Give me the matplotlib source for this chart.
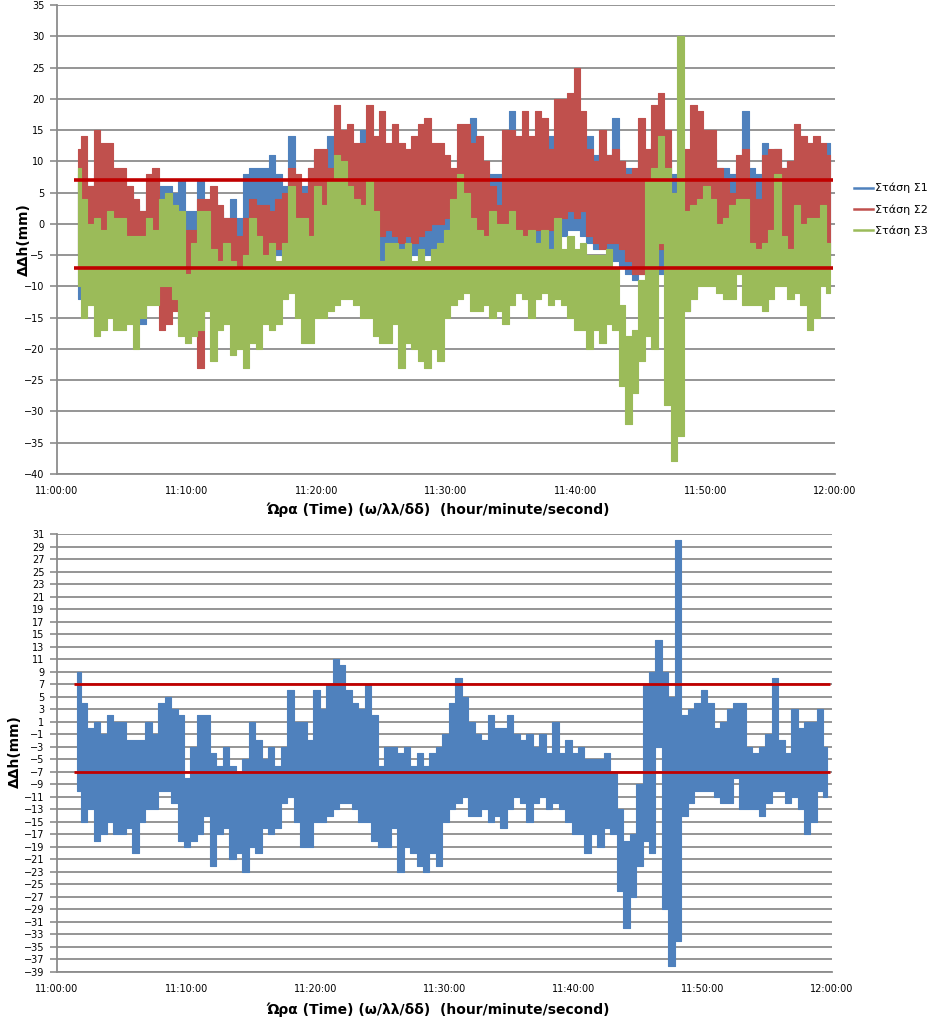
import numpy as np
import matplotlib
matplotlib.use("Agg")
import matplotlib.pyplot as plt
from matplotlib.lines import Line2D

# low / high of each station in 30 s bins, first bin starts 11:01:20 (mm)
s1_low = [-12, -8, -6, -7, -8, -7, -9, -8, -7, -9,
          -16, -8, -6, -5, -4, -6, -8, -10, -9, -8,
          -6, -7, -9, -8, -9, -8, -7, -6, -5, -6,
          -4, -5, -6, -4, -6, -7, -5, -4, -6, -7,
          -5, -4, -5, -6, -5, -4, -6, -6, -5, -6,
          -4, -3, -5, -6, -5, -6, -5, -4, -3, -4,
          -4, -3, -4, -5, -3, -4, -3, -4, -5, -4,
          -5, -4, -3, -4, -2, -2, -1, -1, -2, -3,
          -4, -3, -4, -6, -7, -8, -9, -8, -7, -6,
          -8, -7, -7, -6, -14, -11, -8, -6, -5, -6,
          -5, -6, -5, -6, -7, -8, -6, -5, -6, -7,
          -6, -5, -4, -6, -5, -6, -7]
s1_high = [8, 7, 6, 8, 9, 8, 6, 7, 5, 3,
           2, 5, 7, 6, 6, 5, 7, 2, 2, 7,
           3, 4, 2, 1, 4, 1, 8, 9, 9, 9,
           11, 8, 6, 14, 6, 6, 9, 11, 8, 14,
           11, 10, 12, 11, 15, 10, 10, 12, 10, 8,
           10, 9, 11, 12, 11, 10, 9, 9, 8, 11,
           12, 17, 10, 9, 8, 8, 11, 18, 10, 8,
           10, 12, 10, 14, 12, 10, 14, 12, 10, 14,
           11, 12, 11, 17, 10, 9, 8, 10, 8, 13,
           15, 12, 8, 4, 6, 10, 12, 12, 12, 9,
           9, 8, 9, 18, 9, 8, 13, 10, 12, 9,
           10, 10, 12, 11, 10, 10, 13]
s2_low = [-5, -3, -4, -4, -6, -5, -7, -6, -5, -6,
          -5, -4, -6, -17, -16, -14, -16, -10, -8, -23,
          -8, -5, -6, -5, -9, -10, -9, -10, -8, -8,
          -6, -4, -3, -3, -2, -4, -2, -3, -4, -10,
          -6, -3, -2, -3, -4, -3, -2, -2, -1, -2,
          -3, -2, -3, -2, -1, 0, 0, 1, 0, -2,
          -1, -2, -3, -3, -2, -4, 0, -1, -2, -3,
          -2, -1, -2, -1, 0, 1, 2, 1, 2, -2,
          -3, -4, -3, -3, -4, -6, -8, -8, -6, -7,
          -4, -6, -4, -3, -4, -3, -2, -4, -1, -2,
          -1, -3, -2, -4, -5, -6, -4, -3, -4, -5,
          -4, -3, -2, -5, -3, -4, -5]
s2_high = [12, 14, 6, 15, 13, 13, 9, 9, 6, 4,
           2, 8, 9, 3, 2, 2, 0, -1, -1, 4,
           4, 6, 3, 1, 1, -2, 1, 4, 3, 3,
           2, 4, 5, 9, 8, 5, 9, 12, 12, 9,
           19, 15, 16, 13, 13, 19, 14, 18, 13, 16,
           13, 12, 14, 16, 17, 13, 13, 11, 9, 16,
           16, 13, 14, 10, 6, 3, 15, 15, 14, 18,
           14, 18, 17, 12, 20, 20, 21, 25, 18, 12,
           10, 15, 11, 12, 10, 8, 9, 17, 12, 19,
           21, 15, 5, 8, 12, 19, 18, 15, 15, 9,
           7, 5, 11, 12, 7, 4, 11, 12, 12, 9,
           10, 16, 14, 13, 14, 13, 11]
s3_low = [-10, -15, -13, -18, -17, -15, -17, -17, -16, -20,
          -15, -13, -13, -10, -10, -12, -18, -19, -18, -17,
          -14, -22, -17, -16, -21, -20, -23, -19, -20, -16,
          -17, -16, -12, -11, -15, -19, -19, -15, -15, -14,
          -13, -12, -12, -13, -15, -15, -18, -19, -19, -16,
          -23, -19, -20, -22, -23, -20, -22, -15, -13, -12,
          -11, -14, -14, -13, -15, -14, -16, -13, -11, -12,
          -15, -12, -11, -13, -12, -13, -15, -17, -17, -20,
          -17, -19, -16, -17, -26, -32, -27, -22, -18, -20,
          -3, -29, -38, -34, -14, -12, -10, -10, -10, -11,
          -12, -12, -8, -13, -13, -13, -14, -12, -10, -10,
          -12, -11, -13, -17, -15, -10, -11]
s3_high = [9, 4, 0, 1, -1, 2, 1, 1, -2, -2,
           -2, 1, -1, 4, 5, 3, 2, -8, -3, 2,
           2, -4, -6, -3, -6, -7, -5, 1, -2, -5,
           -3, -6, -3, 6, 1, 1, -2, 6, 3, 7,
           11, 10, 6, 4, 3, 7, 2, -6, -3, -3,
           -4, -3, -6, -4, -6, -4, -3, -1, 4, 8,
           5, 1, -1, -2, 2, 0, 0, 2, -1, -2,
           -1, -3, -1, -4, 1, -4, -2, -4, -3, -5,
           -5, -5, -4, -7, -13, -18, -17, -9, 7, 9,
           14, 9, 5, 30, 2, 3, 4, 6, 4, 0,
           1, 3, 4, 4, -3, -4, -3, -1, 8, -2,
           -4, 3, 0, 1, 1, 3, -3]

tick_labels = ["11:00:00", "11:10:00", "11:20:00", "11:30:00",
               "11:40:00", "11:50:00", "12:00:00"]
series_names = ["Στάση Σ1", "Στάση Σ2", "Στάση Σ3"]
limit = 7

start_min = 80 / 60   # 11:01:20
bin_min = 0.5
t_mid = start_min + bin_min * (np.arange(len(s3_low)) + 0.5)
t_end = start_min + bin_min * len(s3_low)

blue, red, green = "#4F81BD", "#C0504D", "#9BBB59"
limit_col = "#C00000"
grid_col = "#8C8C8C"


def band(ax, low, high, color):
    # each 30 s bin drawn as a vertical stroke from its low to its high
    ax.fill_between(t_mid, low, high, step="mid", facecolor=color,
                    edgecolor=color, lw=0.8)


fig = plt.figure(figsize=(9.39, 10.25), dpi=100)
ax1 = fig.add_axes([57 / 939, 1 - 474 / 1025, 778 / 939, 469 / 1025])
ax2 = fig.add_axes([57 / 939, 1 - 972 / 1025, 775 / 939, 438 / 1025])

for ax in (ax1, ax2):
    ax.set_xlim(0, 60)
    ax.set_xticks(range(0, 61, 10))
    ax.set_xticklabels(tick_labels, fontsize=7)
    ax.tick_params(axis="x", length=0, pad=9)
    ax.tick_params(axis="y", length=5, color=grid_col, width=1.2, labelsize=7, pad=4)
    ax.yaxis.grid(True, color=grid_col, lw=1.3)
    ax.set_axisbelow(True)
    for s in ("top", "right"):
        ax.spines[s].set_visible(False)
    for s in ("left", "bottom"):
        ax.spines[s].set_color(grid_col)
        ax.spines[s].set_linewidth(1.3)

# top chart: three stations
band(ax1, s1_low, s1_high, blue)
band(ax1, s2_low, s2_high, red)
band(ax1, s3_low, s3_high, green)
ax1.hlines([limit, -limit], start_min, t_end, color=limit_col, lw=2.6, zorder=5)
ax1.set_ylim(-40, 35)
ax1.set_yticks(range(-40, 36, 5))

# bottom chart: station 3 alone
band(ax2, s3_low, s3_high, blue)
ax2.hlines([limit, -limit], start_min, t_end, color=limit_col, lw=2.0, zorder=5)
ax2.set_ylim(-39, 31)
ax2.set_yticks(range(-39, 32, 2))

handles = [Line2D([], [], color=c, lw=1.8) for c in (blue, red, green)]
fig.legend(handles, series_names, loc="upper left",
           bbox_to_anchor=(854 / 939, 1 - 183 / 1025),
           frameon=False, fontsize=8, handlelength=1.7, handletextpad=0.2,
           labelspacing=0.95, borderaxespad=0, borderpad=0)

xlabel = "Ώρα (Time) (ω/λλ/δδ)  (hour/minute/second)"
fig.text(438 / 939, 1 - 510 / 1025, xlabel, ha="center", va="center",
         fontsize=10, fontweight="bold")
fig.text(438 / 939, 1 - 1010 / 1025, xlabel, ha="center", va="center",
         fontsize=10, fontweight="bold")
fig.text(24 / 939, 1 - 240 / 1025, "ΔΔh(mm)", rotation=90, ha="center", va="center",
         fontsize=10, fontweight="bold")
fig.text(15 / 939, 1 - 752 / 1025, "ΔΔh(mm)", rotation=90, ha="center", va="center",
         fontsize=10, fontweight="bold")

fig.savefig("out.png", dpi=100)
